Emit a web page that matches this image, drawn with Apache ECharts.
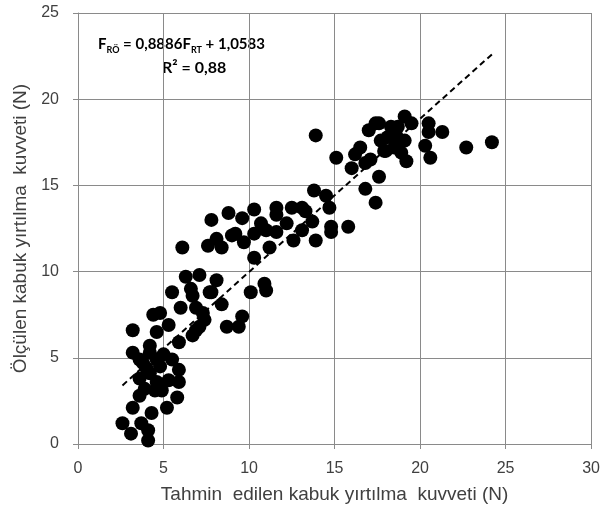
<!DOCTYPE html>
<html>
<head>
<meta charset="utf-8">
<script src="https://cdn.jsdelivr.net/npm/echarts@6/dist/echarts.min.js"></script>
<style>
  html, body { margin: 0; padding: 0; background: #fff; }
  #chart { width: 603px; height: 515px; }
</style>
</head>
<body>
<div id="chart"></div>
<script>
// tahmin edilen (x) ve ölçülen (y) kabuk yırtılma kuvveti, N
const predicted = [
  2.6, 3.1, 3.7, 4.1, 4.1, 4.3, 3.2, 5.2, 3.6, 4.9, 5.8, 3.9, 3.6, 4.2, 4.6, 5.9, 5.9, 5.5, 3.8, 4.8,
  4.6, 3.2, 4.2, 3.2, 4.6, 5.3, 6.9, 4.4, 4.8, 6.0, 5.5, 6.6, 7.8, 8.4, 8.7, 9.4, 9.6, 10.1, 7.3, 7.1,
  6.7, 5.9, 6.3, 7.1, 8.1, 6.7, 7.7, 6.9, 7.4, 10.9, 11.0, 6.1, 7.6, 8.1, 8.4, 9.2, 9.7, 7.8, 8.8, 9.6,
  10.3, 9.0, 10.3, 10.7, 11.0, 11.2, 10.3, 11.6, 11.6, 11.6, 12.2, 12.5, 13.1, 13.3, 12.6, 13.1, 13.7, 13.8, 13.9, 14.5,
  14.7, 14.8, 14.8, 15.8, 13.9, 15.1, 16.0, 16.5, 17.1, 16.8, 17.6, 16.8, 17.4, 17.4, 17.0, 17.7, 18.7, 19.1, 18.5, 18.9,
  19.2, 18.1, 20.5, 20.5, 21.3, 20.3, 20.6, 22.7, 24.2, 19.1, 18.3, 19.5, 17.6, 4.5, 5.3, 4.2, 3.6, 4.0, 5.0, 16.2,
  17.9, 18.0, 18.6
];
const measured = [
  1.2, 0.6, 1.2, 0.8, 0.2, 1.8, 2.1, 2.1, 2.8, 3.1, 2.7, 3.2, 3.8, 4.1, 3.6, 3.6, 4.3, 4.9, 4.7, 4.5,
  4.9, 5.3, 5.3, 6.6, 6.5, 6.9, 6.6, 7.5, 7.6, 7.9, 8.8, 9.0, 8.8, 8.1, 6.8, 6.8, 7.4, 8.8, 7.6, 6.8,
  6.3, 5.9, 9.7, 9.8, 9.5, 8.6, 8.8, 7.9, 7.2, 9.3, 8.9, 11.4, 11.5, 11.9, 11.4, 12.2, 11.7, 13.0, 13.4, 13.1,
  13.6, 12.1, 12.2, 12.8, 12.4, 11.4, 10.8, 12.3, 13.7, 13.3, 12.8, 13.7, 13.7, 13.5, 11.8, 12.4, 12.9, 14.7, 11.8, 14.4,
  13.7, 12.6, 12.3, 12.6, 17.9, 16.6, 16.0, 17.2, 16.5, 16.3, 15.5, 14.8, 14.0, 18.6, 18.2, 17.6, 18.4, 19.0, 17.2, 16.9,
  16.4, 17.8, 18.6, 18.1, 18.1, 17.3, 16.6, 17.2, 17.5, 17.6, 18.4, 18.6, 18.6, 3.1, 3.7, 5.7, 4.9, 4.4, 5.2, 16.8,
  17.0, 17.0, 17.9
];
// eğilim çizgisinin uçları
const trendX = [2.6, 24.2];
const trendY = [3.4, 22.6];

const xTicks = { min: 0, max: 30, interval: 5 };
const yTicks = { min: 0, max: 25, interval: 5 };

const points = predicted.map((x, i) => [x, measured[i]]);
const trend = trendX.map((x, i) => [x, trendY[i]]);

const myChart = echarts.init(document.getElementById('chart'));

const labelColor = '#404040';
const gridColor = '#8a8a8a';

const option = {
  animation: false,
  backgroundColor: '#fff',
  grid: { left: 78, right: 9, top: 13, bottom: 71 },
  xAxis: {
    type: 'value',
    min: xTicks.min, max: xTicks.max, interval: xTicks.interval,
    name: 'Tahmin  edilen kabuk yırtılma  kuvveti (N)',
    nameLocation: 'middle',
    nameGap: 41,
    nameTextStyle: { color: labelColor, fontSize: 19, fontFamily: 'Liberation Sans' },
    axisLine: { show: true, lineStyle: { color: gridColor, width: 1 } },
    axisTick: { show: true, inside: false, length: 5, lineStyle: { color: gridColor } },
    axisLabel: { color: labelColor, fontSize: 16, margin: 17, fontFamily: 'Liberation Sans' },
    splitLine: { show: true, lineStyle: { color: gridColor, width: 1 } }
  },
  yAxis: {
    type: 'value',
    min: yTicks.min, max: yTicks.max, interval: yTicks.interval,
    name: 'Ölçülen kabuk yırtılma  kuvveti (N)',
    nameLocation: 'middle',
    nameGap: 47,
    nameTextStyle: { color: labelColor, fontSize: 19, fontFamily: 'Liberation Sans' },
    axisLine: { show: true, lineStyle: { color: gridColor, width: 1 } },
    axisTick: { show: true, inside: false, length: 5, lineStyle: { color: gridColor } },
    axisLabel: { color: labelColor, fontSize: 16, margin: 19, fontFamily: 'Liberation Sans' },
    splitLine: { show: true, lineStyle: { color: gridColor, width: 1 } }
  },
  graphic: [{
    type: 'text',
    left: 98,
    top: 37,
    style: {
      rich: {
        b: { fontSize: 15, fontWeight: 'bold', fill: '#000', fontFamily: 'Lato', lineHeight: 20, verticalAlign: 'middle' },
        s: { fontSize: 9, fontWeight: 'bold', fill: '#000', fontFamily: 'Lato', lineHeight: 20, verticalAlign: 'bottom' }
      },
      text: '{b|F}{s|RÖ}{b| = 0,8886F}{s|RT}{b| + 1,0583}'
    }
  }, {
    type: 'text',
    left: 162,
    top: 60,
    style: {
      text: 'R² = 0,88',
      fontSize: 16, fontWeight: 'bold', fill: '#000', fontFamily: 'Lato'
    }
  }],
  series: [{
    type: 'scatter',
    data: points,
    symbol: 'circle',
    symbolSize: 14,
    itemStyle: { color: '#000', opacity: 1 },
    z: 3
  }, {
    type: 'line',
    data: trend,
    symbol: 'none',
    lineStyle: { color: '#000', width: 2, type: [6, 4] },
    z: 4
  }]
};

myChart.setOption(option);
</script>
</body>
</html>
